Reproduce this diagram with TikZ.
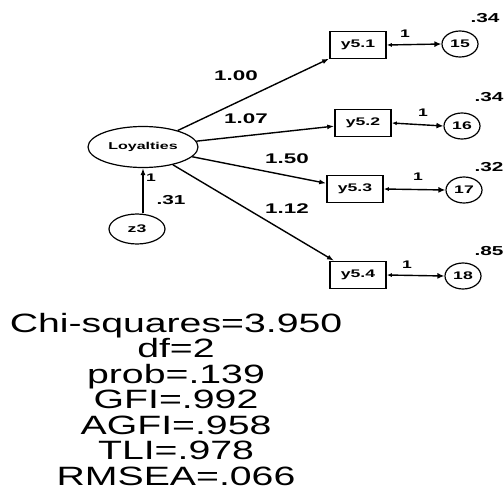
\documentclass[tikz,border=0pt]{standalone}
\usepackage{fontspec}
\setmainfont{Liberation Sans}
\newfontfamily\fitfont[FakeStretch=1.48]{Liberation Sans}
\newfontfamily\lblfont[FakeStretch=1.6]{Liberation Sans}
\usetikzlibrary{arrows.meta,shapes.geometric}

\begin{document}
\begin{tikzpicture}[x=1pt,y=-1pt,
  latent/.style={ellipse, draw, line width=1.2pt, minimum width=110pt, minimum height=41pt, inner sep=0pt,
    font=\lblfont\bfseries\fontsize{10}{10}\selectfont},
  disturb/.style={ellipse, draw, line width=1.2pt, minimum width=56pt, minimum height=30pt, inner sep=0pt,
    font=\lblfont\bfseries\fontsize{11}{11}\selectfont},
  errterm/.style={ellipse, draw, line width=1.2pt, minimum width=36pt, minimum height=26pt, inner sep=0pt,
    font=\lblfont\bfseries\fontsize{11}{11}\selectfont},
  indic/.style={rectangle, draw, line width=1.6pt, minimum width=56pt, minimum height=27pt, inner sep=0pt,
    font=\lblfont\bfseries\fontsize{11}{11}\selectfont},
  path/.style={line width=1.4pt, -{Latex[length=7pt,width=5pt]}},
  errpath/.style={line width=1.4pt, {Latex[length=7pt,width=6pt]}-{Latex[length=5pt,width=4pt]}},
  coef/.style={font=\lblfont\bfseries\fontsize{14}{14}\selectfont, inner sep=0pt},
  var/.style={font=\lblfont\bfseries\fontsize{13}{13}\selectfont, inner sep=0pt},
  fixed/.style={font=\lblfont\bfseries\fontsize{11}{11}\selectfont, inner sep=0pt},
  fit/.style={font=\fitfont\fontsize{26.5}{26}\selectfont, anchor=base, inner sep=0pt}
]
\useasboundingbox (0,0) rectangle (504,490);

% latent factor and its disturbance
\node[latent] (loy) at (143,147) {Loyalties};
\node[disturb] (z3) at (137,229) {z3};

% observed indicators
\node[indic] (y51) at (358,45) {y5.1};
\node[indic] (y52) at (363,123) {y5.2};
\node[indic] (y53) at (355,189) {y5.3};
\node[indic] (y54) at (358,275) {y5.4};

% error terms
\node[errterm] (e15) at (460,44) {15};
\node[errterm] (e16) at (462,126) {16};
\node[errterm] (e17) at (464,190) {17};
\node[errterm] (e18) at (463,276) {18};

% structural paths
\draw[path] (z3.north -| loy.south) -- (loy.south);
\draw[path] (loy) -- (y51);
\draw[path] (loy) -- (y52);
\draw[path] (loy) -- (y53);
\draw[path] (loy) -- (y54);

% measurement error paths
\draw[errpath] (e15.west) -- (y51.east);
\draw[errpath] (e16.west) -- (y52.east);
\draw[errpath] (e17.west) -- (y53.east);
\draw[errpath] (e18.west) -- (y54.east);

% estimates
\node[coef] (c1) at (236,76) {1.00};
\node[coef] (c2) at (246,119) {1.07};
\node[coef] (c3) at (287,159) {1.50};
\node[coef] (c4) at (287,209) {1.12};
\node[var] (vz) at (171,200) {.31};
\node[fixed] (fz) at (151,178) {1};

\node[fixed] (f1) at (405,34) {1};
\node[fixed] (f2) at (423,113) {1};
\node[fixed] (f3) at (418,177) {1};
\node[fixed] (f4) at (407,265) {1};

\node[var] (v1) at (485,18) {.34};
\node[var] (v2) at (489,97) {.34};
\node[var] (v3) at (489,167) {.32};
\node[var] (v4) at (489,251) {.85};

% fit indices
\node[fit] (chi) at (176,332) {Chi-squares=3.950};
\node[fit] (df) at (176,357.5) {df=2};
\node[fit] (prob) at (176,383) {prob=.139};
\node[fit] (gfi) at (176,408.5) {GFI=.992};
\node[fit] (agfi) at (176,434) {AGFI=.958};
\node[fit] (tli) at (176,459.5) {TLI=.978};
\node[fit] (rmsea) at (176,485) {RMSEA=.066};
\end{tikzpicture}
\end{document}
